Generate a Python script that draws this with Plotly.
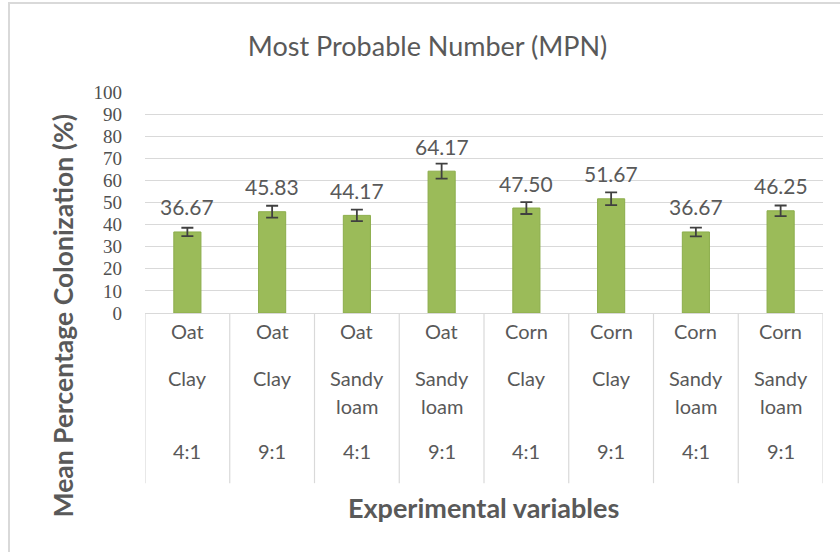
import plotly.graph_objects as go

crops = ["Oat", "Oat", "Oat", "Oat", "Corn", "Corn", "Corn", "Corn"]
soils = ["Clay", "Clay", "Sandy loam", "Sandy loam", "Clay", "Clay", "Sandy loam", "Sandy loam"]
ratios = ["4:1", "9:1", "4:1", "9:1", "4:1", "9:1", "4:1", "9:1"]
values = [36.67, 45.83, 44.17, 64.17, 47.50, 51.67, 36.67, 46.25]
errors = [1.9, 2.7, 2.6, 3.4, 2.7, 2.9, 2.0, 2.4]
y_ticks = [0, 10, 20, 30, 40, 50, 60, 70, 80, 90, 100]

TXT = "#595959"
GRID = "#d9d9d9"
SANS = "Lato, 'Open Sans', sans-serif"

n = len(values)
xs = list(range(n))

fig = go.Figure()
fig.add_trace(go.Bar(
    x=xs, y=values, width=0.32,
    marker=dict(color="#9bbb59", line=dict(color="#8cad4b", width=1)),
    error_y=dict(type="data", array=errors, visible=True, color="#404040", thickness=1.8, width=6),
    hoverinfo="skip",
))

ann = []
for i, v in enumerate(values):
    ann.append(dict(x=i, y=v, xref="x", yref="y", text=f"{v:.2f}", showarrow=False,
                    yshift=25, font=dict(family=SANS, size=21, color=TXT)))
    ann.append(dict(x=i, y=0, xref="x", yref="paper", text=crops[i], showarrow=False,
                    yshift=-32, font=dict(family=SANS, size=20, color=TXT)))
    for j, w in enumerate(soils[i].split(" ")):
        ann.append(dict(x=i, y=0, xref="x", yref="paper", text=w, showarrow=False,
                        yshift=-79 - 28 * j, font=dict(family=SANS, size=20, color=TXT)))
    ann.append(dict(x=i, y=0, xref="x", yref="paper", text=ratios[i], showarrow=False,
                    yshift=-152, font=dict(family=SANS, size=20, color=TXT)))

ann.append(dict(x=0.5, y=0, xref="paper", yref="paper", text="<b>Experimental variables</b>",
                showarrow=False, xanchor="center", yanchor="middle", xshift=-0.5, yshift=-194,
                font=dict(family=SANS, size=27, color=TXT)))
ann.append(dict(x=0, y=0.5, xref="paper", yref="paper", text="<b>Mean Percentage Colonization (%)</b>",
                showarrow=False, xanchor="center", yanchor="middle", xshift=-83, yshift=-114,
                textangle=-90, font=dict(family=SANS, size=26.5, color=TXT)))

shapes = []
for k in range(n + 1):
    shapes.append(dict(type="line", xref="x", yref="paper", x0=k - 0.5, x1=k - 0.5,
                       y0=0, y1=-0.77, line=dict(color=GRID, width=1.2)))
shapes.append(dict(type="rect", xref="paper", yref="paper", x0=-0.2006, x1=1.2, y0=-1.5, y1=1.403,
                   line=dict(color=GRID, width=2), layer="below"))

fig.update_layout(
    width=840, height=552,
    margin=dict(l=145, r=17, t=92, b=239),
    paper_bgcolor="white", plot_bgcolor="white",
    showlegend=False,
    title=dict(text="Most Probable Number (MPN)", x=0.509, xanchor="center", y=0.915, yanchor="middle",
               font=dict(family=SANS, size=27, color=TXT)),
    xaxis=dict(range=[-0.5, n - 0.5], showticklabels=False, showgrid=False, zeroline=False,
               showline=False, fixedrange=True),
    yaxis=dict(range=[0, 100], tickvals=y_ticks, showgrid=True, gridcolor=GRID, gridwidth=1.2,
               zeroline=True, zerolinecolor=GRID, zerolinewidth=1.2, ticks="", ticklen=0,
               ticklabelstandoff=22,
               tickfont=dict(family="'Liberation Serif', serif", size=19, color="#505050"),
               fixedrange=True),
    annotations=ann,
    shapes=shapes,
)

fig.write_html("out.html", config={"displayModeBar": False},
               post_script="document.body.style.margin='0';")
